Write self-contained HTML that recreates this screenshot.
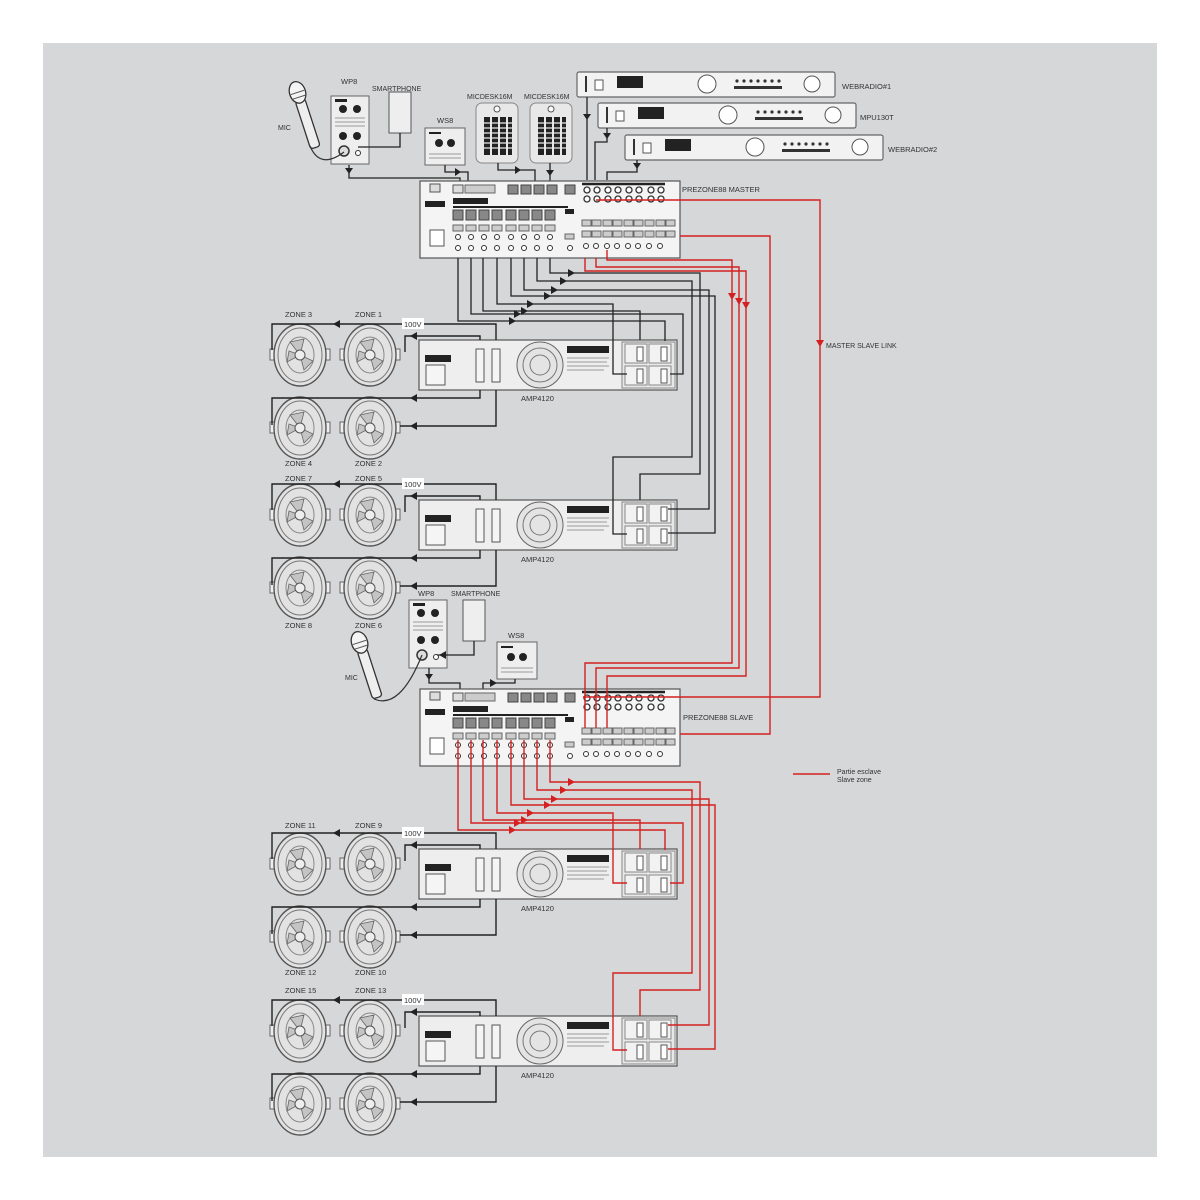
<!DOCTYPE html>
<html><head><meta charset="utf-8"><style>
html,body{margin:0;padding:0;background:#fff;}
svg{display:block;}
text{font-family:"Liberation Sans",sans-serif;fill:#333;}
</style></head><body>
<svg width="1200" height="1200" viewBox="0 0 1200 1200" xmlns="http://www.w3.org/2000/svg">
<defs>
<g id="spk">
 <rect x="-30" y="-6" width="6" height="11" fill="#eee" stroke="#666" stroke-width="1"/>
 <rect x="24" y="-6" width="6" height="11" fill="#eee" stroke="#666" stroke-width="1"/>
 <ellipse cx="0" cy="0" rx="26" ry="31" fill="#e2e2e2" stroke="#555" stroke-width="1.4"/>
 <ellipse cx="0" cy="0" rx="22" ry="27" fill="none" stroke="#777" stroke-width="1"/>
 <ellipse cx="0" cy="0" rx="14" ry="18" fill="none" stroke="#888" stroke-width="1"/>
 <path d="M0,0 L-10,-13 L4,-16z M0,0 L13,6 L4,15z M0,0 L-13,7 L-11,-4z" fill="#c4c4c4" stroke="#666" stroke-width="0.8"/>
 <circle cx="0" cy="0" r="5" fill="#eee" stroke="#555"/>
</g>
<g id="amp">
 <rect x="0" y="0" width="258" height="50" fill="#eeeeee" stroke="#555" stroke-width="1.2"/>
 <rect x="6" y="15" width="26" height="7" fill="#222"/>
 <rect x="7" y="25" width="19" height="20" fill="#f5f5f5" stroke="#555"/>
 <rect x="57" y="9" width="8" height="33" fill="#f5f5f5" stroke="#555"/>
 <rect x="73" y="9" width="8" height="33" fill="#f5f5f5" stroke="#555"/>
 <circle cx="121" cy="25" r="23" fill="#e4e4e4" stroke="#666"/>
 <circle cx="121" cy="25" r="17" fill="none" stroke="#777"/>
 <circle cx="121" cy="25" r="10" fill="none" stroke="#777"/>
 <rect x="148" y="6" width="42" height="7" fill="#222"/>
 <g stroke="#999" stroke-width="1"><line x1="148" y1="18" x2="190" y2="18"/><line x1="148" y1="22" x2="188" y2="22"/><line x1="148" y1="26" x2="190" y2="26"/><line x1="148" y1="30" x2="185" y2="30"/></g>
 <rect x="203" y="2" width="53" height="46" fill="#e8e8e8" stroke="#888"/>
 <rect x="206" y="4" width="22" height="19" fill="#f2f2f2" stroke="#888"/><rect x="230" y="4" width="22" height="19" fill="#f2f2f2" stroke="#888"/>
 <rect x="206" y="26" width="22" height="19" fill="#f2f2f2" stroke="#888"/><rect x="230" y="26" width="22" height="19" fill="#f2f2f2" stroke="#888"/>
 <rect x="218" y="7" width="6" height="14" fill="#fff" stroke="#555"/><rect x="242" y="7" width="6" height="14" fill="#fff" stroke="#555"/>
 <rect x="218" y="29" width="6" height="14" fill="#fff" stroke="#555"/><rect x="242" y="29" width="6" height="14" fill="#fff" stroke="#555"/>
</g>
<g id="pz">
 <rect x="0" y="0" width="260" height="77" fill="#f4f4f4" stroke="#555" stroke-width="1.2"/>
 <rect x="10" y="3" width="10" height="8" fill="#ddd" stroke="#555"/>
 <rect x="5" y="20" width="20" height="6" fill="#222"/>
 <rect x="10" y="49" width="14" height="16" fill="#fff" stroke="#555"/>
 <rect x="33" y="4" width="10" height="8" fill="#ddd" stroke="#555"/>
 <rect x="45" y="4" width="30" height="8" fill="#ccc" stroke="#666"/>
 <rect x="33" y="17" width="35" height="6" fill="#222"/>
 <g fill="#888" stroke="#444"><rect x="88" y="4" width="10" height="9"/><rect x="101" y="4" width="10" height="9"/><rect x="114" y="4" width="10" height="9"/><rect x="127" y="4" width="10" height="9"/>
 <rect x="145" y="4" width="10" height="9"/></g>
 <line x1="33" y1="26" x2="148" y2="26" stroke="#222" stroke-width="2"/>
 <g fill="#888" stroke="#444">
 <rect x="33" y="29" width="10" height="10"/><rect x="46" y="29" width="10" height="10"/><rect x="59" y="29" width="10" height="10"/><rect x="72" y="29" width="10" height="10"/><rect x="86" y="29" width="10" height="10"/><rect x="99" y="29" width="10" height="10"/><rect x="112" y="29" width="10" height="10"/><rect x="125" y="29" width="10" height="10"/></g>
 <g fill="#ccc" stroke="#666">
 <rect x="33" y="44" width="10" height="6"/><rect x="46" y="44" width="10" height="6"/><rect x="59" y="44" width="10" height="6"/><rect x="72" y="44" width="10" height="6"/><rect x="86" y="44" width="10" height="6"/><rect x="99" y="44" width="10" height="6"/><rect x="112" y="44" width="10" height="6"/><rect x="125" y="44" width="10" height="6"/>
 <rect x="145" y="53" width="9" height="5"/></g>
 <g fill="#fff" stroke="#333"><circle cx="38" cy="56" r="2.5"/><circle cx="51" cy="56" r="2.5"/><circle cx="64" cy="56" r="2.5"/><circle cx="77" cy="56" r="2.5"/><circle cx="91" cy="56" r="2.5"/><circle cx="104" cy="56" r="2.5"/><circle cx="117" cy="56" r="2.5"/><circle cx="130" cy="56" r="2.5"/>
 <circle cx="38" cy="67" r="2.5"/><circle cx="51" cy="67" r="2.5"/><circle cx="64" cy="67" r="2.5"/><circle cx="77" cy="67" r="2.5"/><circle cx="91" cy="67" r="2.5"/><circle cx="104" cy="67" r="2.5"/><circle cx="117" cy="67" r="2.5"/><circle cx="130" cy="67" r="2.5"/><circle cx="150" cy="67" r="2.5"/></g>
 <rect x="145" y="28" width="9" height="5" fill="#222"/>
 <line x1="162" y1="3" x2="245" y2="3" stroke="#222" stroke-width="2.5"/>
 <g fill="#fff" stroke="#333" stroke-width="1.3">
 <circle cx="167" cy="9" r="3"/><circle cx="177" cy="9" r="3"/><circle cx="188" cy="9" r="3"/><circle cx="198" cy="9" r="3"/><circle cx="209" cy="9" r="3"/><circle cx="219" cy="9" r="3"/><circle cx="231" cy="9" r="3"/><circle cx="241" cy="9" r="3"/>
 <circle cx="167" cy="18" r="3"/><circle cx="177" cy="18" r="3"/><circle cx="188" cy="18" r="3"/><circle cx="198" cy="18" r="3"/><circle cx="209" cy="18" r="3"/><circle cx="219" cy="18" r="3"/><circle cx="231" cy="18" r="3"/><circle cx="241" cy="18" r="3"/></g>
 <g fill="#ccc" stroke="#666">
 <rect x="162" y="39" width="9" height="6"/><rect x="172" y="39" width="9" height="6"/><rect x="183" y="39" width="9" height="6"/><rect x="193" y="39" width="9" height="6"/><rect x="204" y="39" width="9" height="6"/><rect x="214" y="39" width="9" height="6"/><rect x="225" y="39" width="9" height="6"/><rect x="236" y="39" width="9" height="6"/><rect x="246" y="39" width="9" height="6"/>
 <rect x="162" y="50" width="9" height="6"/><rect x="172" y="50" width="9" height="6"/><rect x="183" y="50" width="9" height="6"/><rect x="193" y="50" width="9" height="6"/><rect x="204" y="50" width="9" height="6"/><rect x="214" y="50" width="9" height="6"/><rect x="225" y="50" width="9" height="6"/><rect x="236" y="50" width="9" height="6"/><rect x="246" y="50" width="9" height="6"/></g>
 <g fill="#fff" stroke="#333"><circle cx="166" cy="65" r="2.5"/><circle cx="176" cy="65" r="2.5"/><circle cx="187" cy="65" r="2.5"/><circle cx="197" cy="65" r="2.5"/><circle cx="208" cy="65" r="2.5"/><circle cx="218" cy="65" r="2.5"/><circle cx="229" cy="65" r="2.5"/><circle cx="240" cy="65" r="2.5"/></g>
</g>
<g id="rack">
 <rect x="0" y="0" width="258" height="25" rx="2" fill="#f2f2f2" stroke="#666" stroke-width="1.2"/>
 <rect x="8" y="4" width="2" height="16" fill="#333"/>
 <rect x="18" y="8" width="8" height="10" fill="#fff" stroke="#555"/>
 <rect x="40" y="4" width="26" height="12" fill="#222"/>
 <circle cx="130" cy="12" r="9" fill="#fff" stroke="#555"/>
 <g fill="#333"><circle cx="160" cy="9" r="1.6"/><circle cx="167" cy="9" r="1.6"/><circle cx="174" cy="9" r="1.6"/><circle cx="181" cy="9" r="1.6"/><circle cx="188" cy="9" r="1.6"/><circle cx="195" cy="9" r="1.6"/><circle cx="202" cy="9" r="1.6"/>
 <rect x="157" y="14" width="48" height="3"/></g>
 <circle cx="235" cy="12" r="8" fill="#fff" stroke="#555"/>
</g>
<g id="wp8">
 <rect x="0" y="0" width="38" height="68" fill="#eeeeee" stroke="#666"/>
 <g fill="#222"><circle cx="12" cy="13" r="4"/><circle cx="26" cy="13" r="4"/><circle cx="12" cy="40" r="4"/><circle cx="26" cy="40" r="4"/><rect x="4" y="3" width="12" height="3"/></g>
 <g stroke="#999"><line x1="4" y1="22" x2="34" y2="22"/><line x1="4" y1="26" x2="34" y2="26"/><line x1="4" y1="30" x2="34" y2="30"/></g>
 <circle cx="13" cy="55" r="5" fill="#ddd" stroke="#333" stroke-width="1.5"/>
 <circle cx="27" cy="57" r="2.5" fill="#fff" stroke="#333"/>
</g>
<g id="ws8">
 <rect x="0" y="0" width="40" height="37" fill="#eeeeee" stroke="#666"/>
 <g fill="#222"><circle cx="14" cy="15" r="4"/><circle cx="26" cy="15" r="4"/><rect x="4" y="4" width="12" height="2"/></g>
 <g stroke="#999"><line x1="4" y1="26" x2="36" y2="26"/><line x1="4" y1="30" x2="36" y2="30"/></g>
</g>
<g id="mic">
 <rect x="0" y="0" width="42" height="60" rx="6" fill="#e8e8e8" stroke="#888"/>
 <circle cx="21" cy="6" r="3" fill="#fff" stroke="#555"/>
 <g fill="#222"><rect x="8" y="14" width="6" height="38"/><rect x="16" y="14" width="6" height="38"/><rect x="24" y="14" width="6" height="38"/><rect x="32" y="14" width="4" height="38"/></g>
 <g stroke="#e8e8e8" stroke-width="1.2"><line x1="6" y1="20" x2="38" y2="20"/><line x1="6" y1="25" x2="38" y2="25"/><line x1="6" y1="30" x2="38" y2="30"/><line x1="6" y1="35" x2="38" y2="35"/><line x1="6" y1="40" x2="38" y2="40"/><line x1="6" y1="45" x2="38" y2="45"/></g>
</g>
<g id="handmic">
 <rect x="-5" y="0" width="10" height="50" rx="3" fill="#eee" stroke="#333" stroke-width="1.3"/>
 <ellipse cx="0" cy="-8" rx="8" ry="11" fill="#f4f4f4" stroke="#333" stroke-width="1.3"/>
 <g stroke="#555"><line x1="-7" y1="-8" x2="7" y2="-8"/><line x1="-7" y1="-3" x2="7" y2="-3"/></g>
</g>
</defs>

<rect x="43" y="43" width="1114" height="1114" fill="#d5d7d9"/>

<use href="#rack" x="577" y="72"/>
<use href="#rack" x="598" y="103"/>
<use href="#rack" x="625" y="135"/>
<text x="842" y="89" font-size="7.5">WEBRADIO#1</text>
<text x="860" y="120" font-size="7.5">MPU130T</text>
<text x="888" y="152" font-size="7.5">WEBRADIO#2</text>

<use href="#wp8" x="331" y="96"/>
<rect x="389" y="92" width="22" height="41" fill="#eee" stroke="#555"/>
<use href="#ws8" x="425" y="128"/>
<use href="#mic" x="476" y="103"/>
<use href="#mic" x="530" y="103"/>
<use href="#handmic" transform="translate(300,100) rotate(-18)"/>
<path d="M310,146 Q320,170 344,152" fill="none" stroke="#333" stroke-width="1.2"/>
<text x="341" y="84" font-size="7.5">WP8</text>
<text x="372" y="91" font-size="7">SMARTPHONE</text>
<text x="278" y="130" font-size="7">MIC</text>
<text x="437" y="123" font-size="7.5">WS8</text>
<text x="467" y="99" font-size="7">MICDESK16M</text>
<text x="524" y="99" font-size="7">MICDESK16M</text>

<g fill="none" stroke="#222" stroke-width="1.3">
<path d="M400,133 V147 H358"/>
<path d="M349,165 V178 H460 V183"/>
<path d="M445,165 V172 H468 V183"/>
<path d="M498,163 V170 H535 V183"/>
<path d="M550,163 V183"/>
<path d="M587,97 V180"/>
<path d="M607,128 V142 H595 V180"/>
<path d="M637,160 V172 H607 V180"/>
</g>
<g fill="#222"><path d="M345,168 h8 l-4,6z"/><path d="M583,114 h8 l-4,6z"/><path d="M603,133 h8 l-4,6z"/><path d="M633,163 h8 l-4,6z"/><path d="M546,170 h8 l-4,6z"/><path d="M455,168 l6,4 l-6,4z"/><path d="M515,166 l6,4 l-6,4z"/></g>

<use href="#pz" x="420" y="181"/>
<text x="682" y="192" font-size="7.5">PREZONE88 MASTER</text>

<use href="#amp" x="419" y="340"/>
<use href="#amp" x="419" y="500"/>
<use href="#amp" x="419" y="849"/>
<use href="#amp" x="419" y="1016"/>
<text x="521" y="401" font-size="7.5">AMP4120</text>
<text x="521" y="562" font-size="7.5">AMP4120</text>
<text x="521" y="911" font-size="7.5">AMP4120</text>
<text x="521" y="1078" font-size="7.5">AMP4120</text>

<g id="sg">
 <use href="#spk" x="300" y="355"/><use href="#spk" x="370" y="355"/>
 <use href="#spk" x="300" y="428"/><use href="#spk" x="370" y="428"/>
 <g fill="none" stroke="#222" stroke-width="1.4">
  <path d="M496,340 V324 H272 V350"/>
  <path d="M480,340 V336 H405 V352"/>
  <path d="M480,390 V398 H272 V425"/>
  <path d="M496,390 V426 H400"/>
 </g>
 <g fill="#222"><path d="M340,320 l-7,4 l7,4z"/><path d="M417,332 l-7,4 l7,4z"/><path d="M417,394 l-7,4 l7,4z"/><path d="M417,422 l-7,4 l7,4z"/></g>
 <rect x="402" y="318" width="22" height="11" fill="#fff"/>
 <text x="404" y="327" font-size="7.5">100V</text>
</g>
<use href="#sg" y="160"/>
<use href="#sg" y="509"/>
<use href="#sg" y="676"/>

<g font-size="7.5">
<text x="285" y="317">ZONE 3</text><text x="355" y="317">ZONE 1</text>
<text x="285" y="466">ZONE 4</text><text x="355" y="466">ZONE 2</text>
<text x="285" y="481">ZONE 7</text><text x="355" y="481">ZONE 5</text>
<text x="285" y="628">ZONE 8</text><text x="355" y="628">ZONE 6</text>
<text x="285" y="828">ZONE 11</text><text x="355" y="828">ZONE 9</text>
<text x="285" y="975">ZONE 12</text><text x="355" y="975">ZONE 10</text>
<text x="285" y="993">ZONE 15</text><text x="355" y="993">ZONE 13</text>
</g>

<g fill="none" stroke="#222" stroke-width="1.3">
<path d="M458,258 V321 H665 V341"/>
<path d="M471,258 V314 H683 V374 H670"/>
<path d="M483,258 V311 H640 V340"/>
<path d="M497,258 V304 H613 V374 H627"/>
<path d="M511,258 V296 H715 V533 H668"/>
<path d="M524,258 V290 H709 V509 H668"/>
<path d="M537,258 V281 H692 V457 H613 V534 H627"/>
<path d="M550,258 V273 H700 V474 H640 V500"/>
</g>
<g fill="#222"><path d="M509,317 l7,4 l-7,4z"/><path d="M514,310 l7,4 l-7,4z"/><path d="M521,307 l7,4 l-7,4z"/><path d="M527,300 l7,4 l-7,4z"/><path d="M544,292 l7,4 l-7,4z"/><path d="M551,286 l7,4 l-7,4z"/><path d="M560,277 l7,4 l-7,4z"/><path d="M568,269 l7,4 l-7,4z"/></g>

<use href="#wp8" x="409" y="600"/>
<rect x="463" y="600" width="22" height="41" fill="#eee" stroke="#555"/>
<use href="#ws8" x="497" y="642"/>
<use href="#handmic" transform="translate(362,650) rotate(-18)"/>
<path d="M374,699 Q400,710 422,655" fill="none" stroke="#333" stroke-width="1.2"/>
<text x="418" y="596" font-size="7.5">WP8</text>
<text x="451" y="596" font-size="7">SMARTPHONE</text>
<text x="345" y="680" font-size="7">MIC</text>
<text x="508" y="638" font-size="7.5">WS8</text>
<g fill="none" stroke="#222" stroke-width="1.3">
<path d="M474,641 V655 H437"/>
<path d="M429,668 V683 H460 V690"/>
<path d="M515,679 V683 H483 V690"/>
</g>
<g fill="#222"><path d="M425,674 h8 l-4,6z"/><path d="M446,651 l-7,4 l7,4z"/><path d="M490,679 l7,4 l-7,4z"/></g>
<use href="#pz" x="420" y="689"/>
<text x="683" y="720" font-size="7.5">PREZONE88 SLAVE</text>

<g fill="none" stroke="#d42020" stroke-width="1.4">
<path d="M585,258 V271 H746 V676 H607 V728"/>
<path d="M596,258 V267 H739 V668 H596 V728"/>
<path d="M607,250 V260 H732 V663 H585 V728"/>
<path d="M680,236 H770 V734 H680"/>
<path d="M596,200 H820 V697 H583"/>
<path d="M458,766 V830 H665 V850"/>
<path d="M471,766 V823 H683 V883 H670"/>
<path d="M483,766 V820 H640 V849"/>
<path d="M497,766 V813 H613 V883 H627"/>
<path d="M511,766 V805 H715 V1049 H668"/>
<path d="M524,766 V799 H709 V1025 H668"/>
<path d="M537,766 V790 H692 V973 H613 V1050 H627"/>
<path d="M550,766 V782 H700 V990 H640 V1016"/>
<path d="M458,740 V766 M471,740 V766 M483,740 V766 M497,740 V766 M511,740 V766 M524,740 V766 M537,740 V766 M550,740 V766"/>
<path d="M793,774 H830"/>
</g>
<g fill="#d42020"><path d="M728,293 h8 l-4,7z"/><path d="M735,298 h8 l-4,7z"/><path d="M742,302 h8 l-4,7z"/><path d="M816,340 h8 l-4,7z"/>
<path d="M509,826 l7,4 l-7,4z"/><path d="M514,819 l7,4 l-7,4z"/><path d="M521,816 l7,4 l-7,4z"/><path d="M527,809 l7,4 l-7,4z"/><path d="M544,801 l7,4 l-7,4z"/><path d="M551,795 l7,4 l-7,4z"/><path d="M560,786 l7,4 l-7,4z"/><path d="M568,778 l7,4 l-7,4z"/></g>
<text x="826" y="348" font-size="7">MASTER SLAVE LINK</text>
<text x="837" y="774" font-size="7">Partie esclave</text>
<text x="837" y="782" font-size="7">Slave zone</text>
</svg>
</body></html>
